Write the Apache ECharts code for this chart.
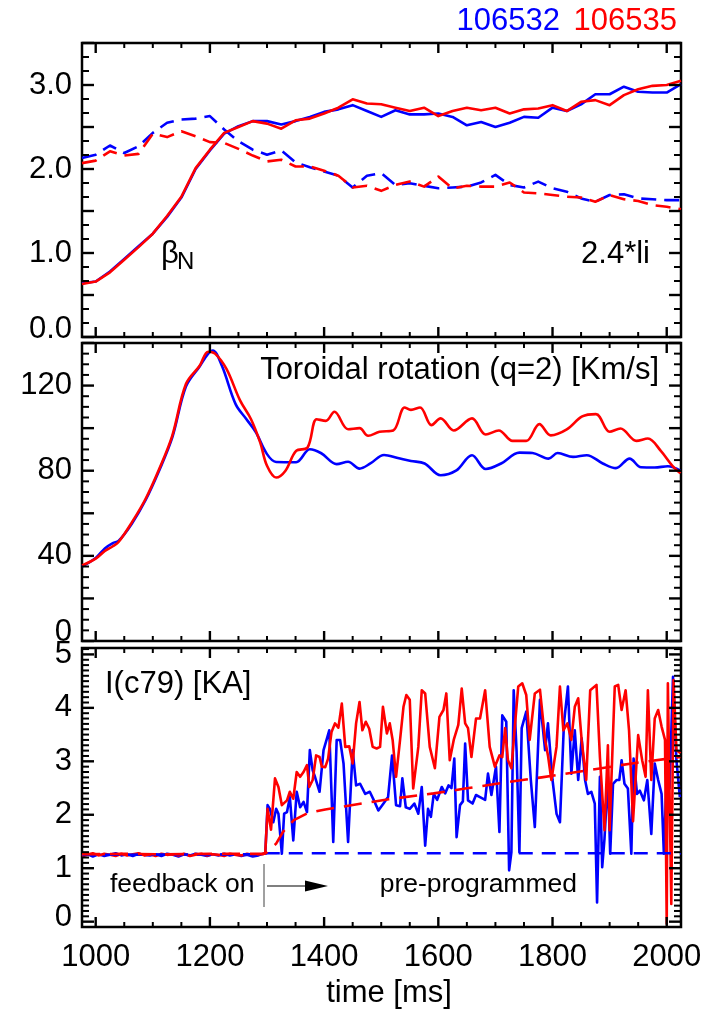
<!DOCTYPE html>
<html><head><meta charset="utf-8">
<script src="https://cdn.jsdelivr.net/npm/echarts@6/dist/echarts.min.js"></script>
<style>html,body{margin:0;padding:0;background:#fff}#c{width:708px;height:1010px}</style>
</head><body><div id="c"></div>
<script>
// ---------- tick labels ----------
const xTickLabels = [1000, 1200, 1400, 1600, 1800, 2000];
const betaTickLabels = [0, 1, 2, 3];
const rotTickLabels = [0, 40, 80, 120];
const coilTickLabels = [0, 1, 2, 3, 4, 5];

// ---------- panel 1 : beta_N (solid) and 2.4*li (dashed) ----------
const timeBeta = [976,1000,1025,1050,1075,1100,1125,1150,1175,1200,1225,1250,1275,1300,1325,1350,1375,1400,1425,1450,1475,1500,1525,1550,1575,1600,1625,1650,1675,1700,1725,1750,1775,1800,1825,1850,1875,1900,1925,1950,1975,2000,2025];
const betaN_106532 = [0.64,0.66,0.78,0.93,1.08,1.23,1.43,1.66,2.00,2.22,2.42,2.51,2.57,2.57,2.53,2.57,2.62,2.68,2.71,2.76,2.69,2.62,2.70,2.65,2.65,2.66,2.62,2.52,2.56,2.50,2.55,2.62,2.61,2.73,2.69,2.77,2.89,2.89,2.98,2.92,2.91,2.91,3.01];
const betaN_106535 = [0.63,0.66,0.77,0.92,1.07,1.23,1.44,1.67,2.01,2.23,2.43,2.50,2.57,2.54,2.48,2.58,2.60,2.66,2.73,2.83,2.78,2.77,2.73,2.69,2.73,2.63,2.69,2.73,2.70,2.73,2.66,2.71,2.72,2.76,2.69,2.80,2.82,2.76,2.88,2.95,2.99,3.00,3.05];
const li_106532 = [2.13,2.17,2.28,2.19,2.27,2.43,2.55,2.59,2.60,2.63,2.47,2.33,2.23,2.17,2.22,2.08,2.02,1.97,1.92,1.78,1.92,1.95,1.81,1.83,1.80,1.77,1.78,1.79,1.84,1.93,1.81,1.78,1.85,1.77,1.73,1.65,1.61,1.69,1.70,1.65,1.64,1.63,1.63];
const li_106535 = [2.07,2.10,2.21,2.16,2.18,2.42,2.38,2.45,2.39,2.32,2.31,2.24,2.16,2.09,2.11,2.03,2.03,1.98,1.92,1.78,1.80,1.74,1.81,1.85,1.79,1.91,1.77,1.80,1.79,1.79,1.84,1.72,1.71,1.69,1.67,1.66,1.61,1.69,1.64,1.62,1.57,1.55,1.52];

// ---------- panel 2 : toroidal rotation ----------
const timeRot_106532 = [976,1000,1016,1030,1040,1063,1087,1111,1134,1158,1182,1197,1205,1221,1245,1264,1280,1300,1316,1351,1375,1395,1422,1442,1462,1481,1505,1529,1552,1576,1604,1631,1659,1683,1710,1742,1765,1793,1809,1836,1860,1888,1911,1935,1955,1979,2002,2024];
const rot_106532 = [35.0,39.0,43.5,46.0,47.0,55.0,66.0,80.0,95.5,119.5,129.0,135.0,136.5,129.3,111.3,104.2,98.3,87.8,84.1,84.0,90.1,88.2,83.1,84.2,81.0,83.4,87.4,86.0,84.6,83.4,77.9,80.0,87.3,80.8,83.4,88.5,88.3,85.7,88.3,86.5,87.3,83.4,81.2,85.7,81.6,81.5,82.1,80.0];
const timeRot_106535 = [976,1000,1016,1030,1040,1063,1087,1111,1134,1158,1182,1197,1209,1229,1253,1272,1288,1300,1316,1332,1351,1371,1387,1403,1418,1442,1462,1477,1497,1521,1541,1552,1568,1588,1604,1627,1659,1683,1706,1730,1754,1777,1797,1825,1852,1876,1900,1919,1947,1967,1990,2010,2024];
const rot_106535 = [35.5,38.7,42.3,44.5,46.5,55.6,66.6,80.7,96.4,120.7,129.3,135.9,135.0,127.8,112.9,104.2,93.3,82.3,76.8,79.9,89.3,90.9,104.2,103.4,107.7,99.5,100.0,96.4,98.3,98.9,109.7,108.6,109.7,101.4,104.6,98.9,104.6,97.0,98.9,94.0,94.0,101.9,96.6,99.4,105.5,106.6,98.3,99.8,94.0,95.1,89.2,82.3,78.8];

// ---------- panel 3 : I(c79) ----------
const timeCoil_106532 = [976,985,995,1005,1015,1025,1035,1045,1055,1065,1075,1085,1095,1105,1115,1125,1135,1145,1155,1165,1175,1185,1195,1205,1215,1225,1235,1245,1255,1265,1275,1285,1293,
 1297,1301,1305,1311,1316,1320,1326,1330,1335,1340,1346,1352,1358,1364,1370,1375,1380,1384,1392,1399,1405,1409,1416,1422,1428,1434,1442,1450,1456,1463,1472,1480,1488,1495,1504,1512,1519,1526,1533,1537,1543,1550,1558,1565,1571,1577,1582,1587,1592,1598,
 1606,1612,1618,1623,1628,1632,1638,1643,1647,1652,1660,1666,1673,1682,1687,1693,1701,1707,1712,1719,1724,1728,1732,1737,1742,1746,1754,1762,1769,1778,1787,1792,1800,1807,1813,1820,1827,1833,1839,1845,1851,1857,1862,1868,1874,1878,1883,1887,1891,1897,1901,1906,1912,1917,1921,1926,1932,1938,1942,1948,1953,1960,1966,1973,1979,1985,1991,1995,2001,2005,2011,2017,2023];
const coil_106532 = [1.24,1.27,1.22,1.26,1.23,1.25,1.28,1.24,1.26,1.23,1.27,1.25,1.24,1.26,1.23,1.27,1.25,1.22,1.26,1.24,1.27,1.25,1.23,1.26,1.24,1.27,1.24,1.26,1.23,1.25,1.22,1.24,1.27,
 1.27,2.18,2.11,1.86,2.11,2.02,1.27,2.02,2.05,2.33,1.52,2.43,2.14,2.24,2.05,3.21,2.83,2.71,2.43,3.21,3.43,3.58,1.49,3.40,3.40,2.96,1.49,3.21,2.55,2.58,2.39,2.43,2.25,2.08,2.21,2.33,3.11,2.18,2.16,2.68,2.14,2.11,2.21,2.02,2.52,1.42,2.11,1.96,2.39,2.28,
 2.52,2.40,2.55,2.50,3.05,1.58,2.18,2.25,3.33,2.27,2.21,2.37,2.33,2.28,2.77,2.37,2.90,1.68,3.86,3.74,0.96,1.30,4.33,3.21,1.30,3.62,3.93,2.65,1.77,4.15,3.21,3.71,2.65,2.02,1.86,3.71,4.40,2.77,3.58,2.65,3.43,2.65,2.39,2.43,2.21,0.36,2.71,1.02,1.55,2.71,1.27,2.58,2.65,2.65,3.02,2.58,2.49,1.27,3.05,2.39,2.45,2.27,2.65,1.64,2.96,2.65,2.39,1.27,3.02,2.49,4.58,3.02,2.33];
const timeCoil_106535 = [976,985,995,1005,1015,1025,1035,1045,1055,1065,1075,1085,1095,1105,1115,1125,1135,1145,1155,1165,1175,1185,1195,1205,1215,1225,1235,1245,1255,1265,1275,1285,1293,
 1297,1301,1307,1314,1320,1326,1335,1340,1346,1352,1358,1364,1370,1374,1380,1386,1392,1396,1402,1407,1413,1419,1425,1431,1437,1444,1450,1456,1462,1467,1473,1479,1485,1492,1498,1503,1510,1515,1520,1526,1533,1539,1544,1550,1556,1565,1571,1577,1585,1594,1602,1609,1614,1620,1627,1635,1641,1647,1652,1658,1666,1673,1682,1690,1699,1707,1712,1717,1722,1728,1734,1740,1747,1754,1760,1769,1778,1787,1792,1798,1807,1813,1819,1826,1833,1839,1845,1851,1859,1866,1877,1883,1891,1897,1900,1906,1909,1915,1921,1928,1934,1941,1950,1957,1963,1967,1973,1979,1985,1991,1997,2000,2002,2008,2012,2017,2024];
const coil_106535 = [1.22,1.25,1.28,1.24,1.27,1.25,1.23,1.27,1.24,1.26,1.28,1.24,1.26,1.23,1.27,1.25,1.26,1.24,1.27,1.23,1.25,1.27,1.24,1.26,1.25,1.23,1.27,1.25,1.24,1.27,1.25,1.26,1.26,
 1.30,2.11,1.72,2.68,2.52,2.18,2.27,2.43,2.30,2.80,2.71,2.80,2.93,2.52,2.65,3.11,3.08,2.90,2.89,3.05,3.55,3.71,3.63,4.08,3.27,3.28,2.96,3.71,4.11,3.58,3.74,3.61,3.27,3.24,3.27,4.02,3.52,3.71,3.40,2.71,3.40,4.02,4.24,4.15,2.49,3.27,4.33,4.27,3.27,2.87,3.83,3.96,4.27,3.02,3.40,3.68,4.36,3.71,3.62,3.08,3.80,3.80,4.33,3.27,2.90,3.11,3.08,3.62,3.02,2.87,3.65,4.40,4.46,4.24,3.40,4.27,4.34,3.40,3.11,2.65,3.27,4.40,3.58,3.71,3.40,4.02,4.18,3.40,2.65,4.33,4.43,3.08,1.71,3.30,1.71,3.52,4.40,4.43,3.96,4.33,3.58,1.88,3.49,3.02,2.71,4.33,2.65,3.80,3.96,3.65,3.40,-0.04,4.46,0.33,4.52,3.21,3.15];
// pre-programmed (dashed) references
const timeRef_106532 = [976,1296,1300,2025];
const ref_106532 = [1.25,1.26,1.28,1.28];
const timeRef_106535 = [976,1050,1120,1200,1296,1300,1316,1328,1347,1371,1402,1466,1513,1592,1647,1702,1781,1860,1939,2024];
const ref_106535 = [1.26,1.27,1.26,1.27,1.27,1.30,1.46,1.68,1.90,2.03,2.10,2.21,2.29,2.40,2.49,2.58,2.70,2.83,2.96,3.08];

// ---------- build chart ----------
const FONT = "'Liberation Sans', Arial, Helvetica, sans-serif";
const BLUE = '#0000ff', RED = '#ff0000';
const X_MIN = 976, X_MAX = 2025;
const zip = (t, v) => t.map((x, i) => [x, v[i]]);
const range = (a, b, s) => { const r = []; for (let k = 0; a + k * s <= b + 1e-9; k++) r.push(+(a + k * s).toFixed(6)); return r; };

const grids = [
  { left: 82, right: 27, top: 43, height: 294 },
  { left: 82, right: 27, top: 343, height: 298 },
  { left: 82, right: 27, top: 648, height: 279 }
];
const yCfg = [
  { min: 0, max: 3.5, major: range(0, 3.5, 0.5), minor: range(0, 3.5, 1 / 6), labels: betaTickLabels, fmt: v => v.toFixed(1), lowPad: 16, lowVal: 0 },
  { min: 0, max: 140, major: range(0, 140, 20), minor: range(0, 140, 5), labels: rotTickLabels, fmt: v => String(v), lowPad: 18, lowVal: 0 },
  { min: -0.1, max: 5.12, major: range(0, 5, 1), minor: range(0, 5.1, 0.1), labels: coilTickLabels, fmt: v => String(v), lowPad: 8, lowVal: 0 }
];
const xMajor = xTickLabels;
const xMinor = range(1000, 2000, 50);

const xAxes = [], yAxes = [];
grids.forEach((g, gi) => {
  const last = gi === grids.length - 1;
  const c = yCfg[gi];
  xAxes.push({
    type: 'value', gridIndex: gi, position: 'bottom', min: X_MIN, max: X_MAX,
    axisLine: { show: false, onZero: false }, splitLine: { show: false }, axisTick: { show: false },
    axisLabel: { show: last, customValues: xTickLabels, margin: 15, fontSize: 31, color: '#000', fontFamily: FONT, formatter: v => String(v) }
  });
  yAxes.push({
    type: 'value', gridIndex: gi, position: 'left', min: c.min, max: c.max,
    axisLine: { show: false, onZero: false }, splitLine: { show: false }, axisTick: { show: false },
    axisLabel: {
      show: true, customValues: c.labels, margin: 10, fontSize: 31, color: '#000', fontFamily: FONT,
      formatter: v => (Math.abs(v - c.lowVal) < 1e-9 ? '{lo|' + c.fmt(v) + '}' : c.fmt(v)),
      rich: { lo: { fontSize: 31, color: '#000', fontFamily: FONT, padding: [0, 0, c.lowPad, 0] } }
    }
  });
});

function line(gi, data, color, dash, smooth) {
  return {
    type: 'line', xAxisIndex: gi, yAxisIndex: gi, data: data,
    showSymbol: false, symbol: 'none', smooth: smooth || false, clip: true,
    lineStyle: { color: color, width: 2.6, type: dash || 'solid', cap: 'butt', join: 'round' },
    emphasis: { disabled: true }
  };
}

// inward tick marks on all four sides, positioned through each panel's axes
function tickSeries(gi) {
  const c = yCfg[gi];
  const data = [];
  xMinor.forEach(v => {
    const major = xMajor.indexOf(v) >= 0;
    const len = major ? 10 : 5, w = major ? 2.4 : 2;
    data.push([v, c.min, 0, -len, w]);
    data.push([v, c.max, 0, len, w]);
  });
  c.minor.forEach(v => {
    const major = c.major.some(m => Math.abs(m - v) < 1e-6);
    const len = major ? 12 : 7, w = major ? 2.4 : 2;
    data.push([X_MIN, v, len, 0, w]);
    data.push([X_MAX, v, -len, 0, w]);
  });
  return {
    type: 'custom', xAxisIndex: gi, yAxisIndex: gi, silent: true, z: 5,
    renderItem: (params, api) => {
      const p = api.coord([api.value(0), api.value(1)]);
      return { type: 'line', shape: { x1: p[0], y1: p[1], x2: p[0] + api.value(2), y2: p[1] + api.value(3) },
        style: { stroke: '#000', lineWidth: api.value(4) } };
    },
    data: data
  };
}

const series = [
  line(0, zip(timeBeta, li_106532), BLUE, [15, 8]),
  line(0, zip(timeBeta, li_106535), RED, [15, 8]),
  line(0, zip(timeBeta, betaN_106532), BLUE),
  line(0, zip(timeBeta, betaN_106535), RED),
  line(1, zip(timeRot_106532, rot_106532), BLUE, null, 0.35),
  line(1, zip(timeRot_106535, rot_106535), RED, null, 0.35),
  line(2, zip(timeCoil_106532, coil_106532), BLUE),
  line(2, zip(timeCoil_106535, coil_106535), RED),
  line(2, zip(timeRef_106532, ref_106532), BLUE, [14, 9]),
  line(2, zip(timeRef_106535, ref_106535), RED, [18, 10]),
  tickSeries(0), tickSeries(1), tickSeries(2)
];

function txt(x, y, s, color, size, align) {
  return { type: 'text', x: x, y: y, z: 100, silent: true,
    style: { text: s, fill: color || '#000', fontSize: size || 31, fontFamily: FONT, align: align || 'left', verticalAlign: 'middle' } };
}
function seg(x1, y1, x2, y2, w, color) {
  return { type: 'line', z: 90, silent: true, shape: { x1: x1, y1: y1, x2: x2, y2: y2 }, style: { stroke: color || '#000', lineWidth: w || 1.5 } };
}

const graphic = [
  txt(560, 21, '106532', BLUE, 31, 'right'),
  txt(677, 21, '106535', RED, 31, 'right'),
  txt(161, 254, 'β', '#000', 31),
  txt(177, 262, 'N', '#000', 24),
  txt(650, 254, '2.4*li', '#000', 31, 'right'),
  txt(659, 370, 'Toroidal rotation (q=2) [Km/s]', '#000', 31, 'right'),
  txt(105, 684, 'I(c79) [KA]', '#000', 31),
  txt(110, 885, 'feedback on', '#000', 26.5),
  txt(577, 885, 'pre-programmed', '#000', 26.5, 'right'),
  txt(389, 993, 'time [ms]', '#000', 31, 'center'),
  seg(264, 864, 264, 907, 1.5, '#808080'),
  seg(267, 886, 308, 886, 1.2, '#000'),
  { type: 'polygon', z: 100, silent: true, shape: { points: [[305, 880.5], [328, 886], [305, 891.5]] }, style: { fill: '#000' } }
];

const chart = echarts.init(document.getElementById('c'), null, { renderer: 'canvas' });
chart.setOption({
  animation: false,
  backgroundColor: '#fff',
  grid: grids.map(g => Object.assign({ show: true, borderColor: '#000', borderWidth: 2.5, backgroundColor: 'transparent' }, g)),
  xAxis: xAxes,
  yAxis: yAxes,
  series: series,
  graphic: graphic
});
</script>
</body></html>
